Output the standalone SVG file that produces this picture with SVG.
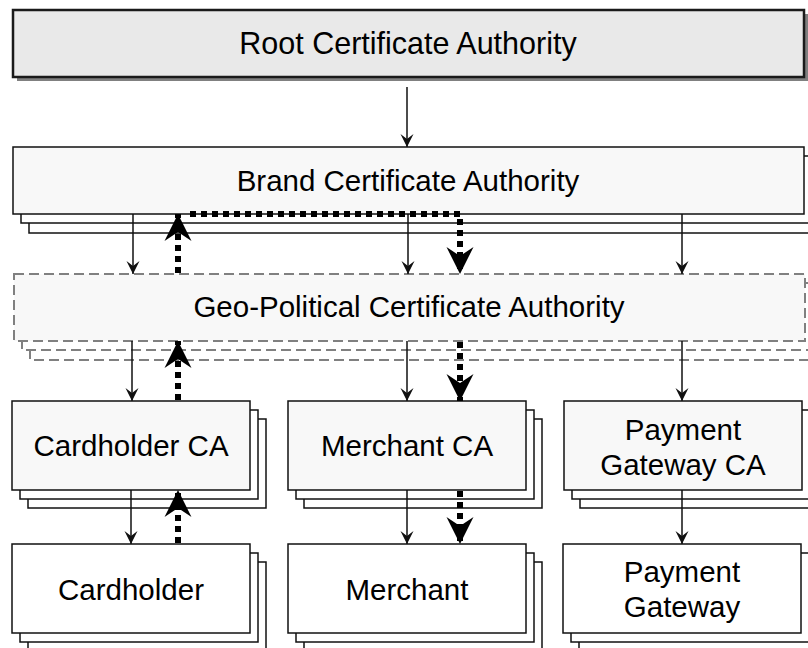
<svg xmlns="http://www.w3.org/2000/svg" width="808" height="648" viewBox="0 0 808 648">
<style>
text{font-family:"Liberation Sans",Arial,sans-serif;font-size:29.5px;fill:#000;text-anchor:middle}
.box{stroke:#111;stroke-width:1.5}
.main{fill:#f8f8f8}
.white{fill:#fff}
.geo{fill:#f8f8f8;stroke:#808080;stroke-width:2;stroke-dasharray:10 5}
.geol{fill:#fff;stroke:#808080;stroke-width:2;stroke-dasharray:10 5}
.c{stroke:#111;stroke-width:1.5;fill:none}
.d{stroke:#000;stroke-width:6;fill:none;stroke-dasharray:6 5}
</style>
<defs>
<marker id="s" markerUnits="userSpaceOnUse" markerWidth="14" markerHeight="14" viewBox="0 0 14 14" refX="13" refY="7" orient="auto"><path d="M0,0.5 L13,7 L0,13.5 L5,7 Z" fill="#111"/></marker>
<marker id="b" markerUnits="userSpaceOnUse" markerWidth="28" markerHeight="28" viewBox="0 0 28 28" refX="27" refY="14" orient="auto"><path d="M0,0.5 L27,14 L0,27.5 L9,14 Z" fill="#000"/></marker>
</defs>
<g id="root">
<rect x="17" y="14" width="791" height="67" fill="#808080"/>
<rect x="13" y="10" width="791" height="67" fill="#e9e9e9" stroke="#1a1a1a" stroke-width="2.5"/>
<text x="408" y="54" style="font-size:30.5px">Root Certificate Authority</text>
</g>
<g id="brand">
<rect class="box white" x="29" y="166" width="791" height="67"/>
<rect class="box white" x="21" y="156" width="791" height="67"/>
<rect class="box main" x="13" y="147" width="791" height="67"/>
<text x="408" y="191">Brand Certificate Authority</text>
</g>
<g id="geo">
<rect class="geol" x="30" y="293" width="791" height="67"/>
<rect class="geol" x="22" y="283" width="791" height="67"/>
<rect class="geo" x="14" y="274" width="791" height="67"/>
<text x="409" y="317">Geo-Political Certificate Authority</text>
</g>
<g id="cardholder-ca">
<rect class="box white" x="28" y="419" width="238" height="89"/>
<rect class="box white" x="20" y="410" width="238" height="89"/>
<rect class="box main" x="12" y="401" width="238" height="89"/>
<text x="131" y="456">Cardholder CA</text>
</g>
<g id="merchant-ca">
<rect class="box white" x="304" y="419" width="238" height="89"/>
<rect class="box white" x="296" y="410" width="238" height="89"/>
<rect class="box main" x="288" y="401" width="238" height="89"/>
<text x="407" y="456">Merchant CA</text>
</g>
<g id="payment-gateway-ca">
<rect class="box white" x="580" y="419" width="238" height="89"/>
<rect class="box white" x="572" y="410" width="238" height="89"/>
<rect class="box main" x="564" y="401" width="238" height="89"/>
<text x="683" y="440">Payment</text>
<text x="683" y="475">Gateway CA</text>
</g>
<g id="cardholder">
<rect class="box white" x="28" y="562" width="238" height="89"/>
<rect class="box white" x="20" y="553" width="238" height="89"/>
<rect class="box white" x="12" y="544" width="238" height="89"/>
<text x="131" y="600">Cardholder</text>
</g>
<g id="merchant">
<rect class="box white" x="304" y="562" width="238" height="89"/>
<rect class="box white" x="296" y="553" width="238" height="89"/>
<rect class="box white" x="288" y="544" width="238" height="89"/>
<text x="407" y="600">Merchant</text>
</g>
<g id="payment-gateway">
<rect class="box white" x="579" y="562" width="238" height="89"/>
<rect class="box white" x="571" y="553" width="238" height="89"/>
<rect class="box white" x="563" y="544" width="238" height="89"/>
<text x="682" y="582">Payment</text>
<text x="682" y="617">Gateway</text>
</g>
<g id="connectors">
<path class="c" d="M407,87 V147" marker-end="url(#s)"/>
<path class="c" d="M133,214 V274" marker-end="url(#s)"/>
<path class="c" d="M408,214 V274" marker-end="url(#s)"/>
<path class="c" d="M682,214 V274" marker-end="url(#s)"/>
<path class="c" d="M132,341 V401" marker-end="url(#s)"/>
<path class="c" d="M407,341 V401" marker-end="url(#s)"/>
<path class="c" d="M682,341 V401" marker-end="url(#s)"/>
<path class="c" d="M131,490 V544" marker-end="url(#s)"/>
<path class="c" d="M407,490 V544" marker-end="url(#s)"/>
<path class="c" d="M682,490 V544" marker-end="url(#s)"/>
<path class="d" d="M178,543 V490" marker-end="url(#b)"/>
<path class="d" d="M178,400 V341" marker-end="url(#b)"/>
<path class="d" d="M178,273 V214" marker-end="url(#b)"/>
<path class="d" d="M190,214 H460 V274" marker-end="url(#b)"/>
<path class="d" d="M460,342 V401" marker-end="url(#b)"/>
<path class="d" d="M460,491 V544" marker-end="url(#b)"/>
</g>
</svg>
